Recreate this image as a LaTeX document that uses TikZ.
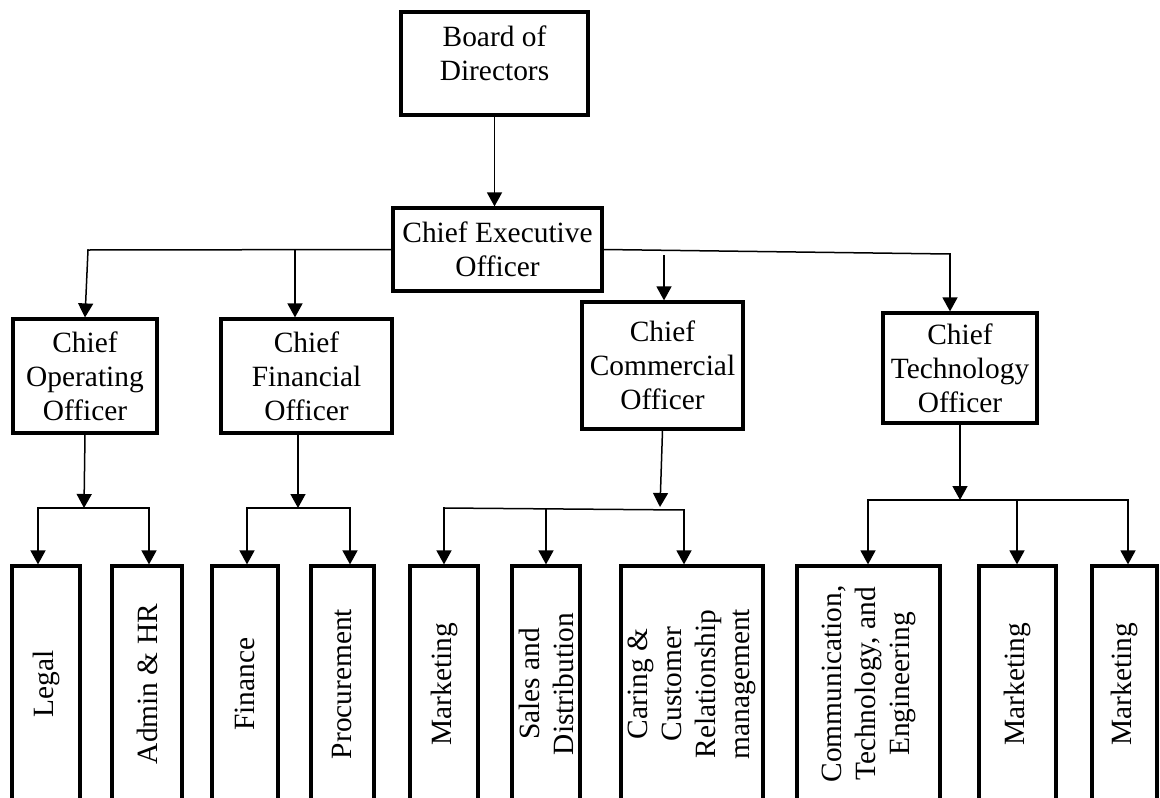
\documentclass[tikz,border=0pt]{standalone}
\usepackage{fontspec}
\setmainfont{Liberation Serif}
\usetikzlibrary{arrows.meta}

\begin{document}
\begin{tikzpicture}[x=1pt,y=-1pt,
	block/.style={draw,line width=3.2pt,align=center,inner sep=0pt,font=\fontsize{29.4}{34}\selectfont},
	leaf/.style={block,rotate=90,minimum width=236pt},
	link/.style={line width=1.5pt,line cap=rect},
	arr/.style={link,-{Triangle[width=15pt,length=14pt]}}]
	\useasboundingbox (0,0) rectangle (1160,798);
	\clip (0,0) rectangle (1160,798);
	% top levels
	\node[block,minimum width=187pt,minimum height=103pt,text depth=21pt] (bod) at (494.5,63.5) {Board of\\Directors};
	\node[block,minimum width=209pt,minimum height=83pt] (ceo) at (497.5,249.5) {Chief Executive\\Officer};
	\node[block,minimum width=144pt,minimum height=114pt] (coo) at (85,376) {Chief\\Operating\\Officer};
	\node[block,minimum width=171pt,minimum height=114pt] (cfo) at (306.5,376) {Chief\\Financial\\Officer};
	\node[block,minimum width=161pt,minimum height=127pt] (cco) at (662.5,365.5) {Chief\\Commercial\\Officer};
	\node[block,minimum width=154pt,minimum height=110pt] (cto) at (960,368) {Chief\\Technology\\Officer};
	% departments (rotated, so .east is the top side)
	\node[leaf,minimum height=68pt] (legal) at (46,684) {Legal};
	\node[leaf,minimum height=70pt] (admin) at (147,684) {Admin \& HR};
	\node[leaf,minimum height=66pt] (fin) at (245,684) {Finance};
	\node[leaf,minimum height=63pt] (proc) at (342.5,684) {Procurement};
	\node[leaf,minimum height=68pt] (mkt1) at (444,684) {Marketing};
	\node[leaf,minimum height=68pt] (sales) at (546,684) {Sales and\\Distribution};
	\node[leaf,minimum height=142pt] (care) at (692,684) {Caring \&\\Customer\\Relationship\\management};
	\node[leaf,minimum height=143pt] (comm) at (868.5,684) {Communication,\\Technology, and\\Engineering};
	\node[leaf,minimum height=77pt] (mkt2) at (1017.5,684) {Marketing};
	\node[leaf,minimum height=65pt] (mkt3) at (1124.5,684) {Marketing};
	% junctions
	\coordinate (jl) at (88,250);
	\coordinate (jf) at (295,250);
	\coordinate (jc) at (664,256);
	\coordinate (jr) at (950,254);
	\coordinate (o0) at (84,508);
	\coordinate (o1) at (38,508);
	\coordinate (o2) at (149,508);
	\coordinate (f0) at (298,508);
	\coordinate (f1) at (247,508);
	\coordinate (f2) at (350,508);
	\coordinate (c0) at (660,507);
	\coordinate (c1) at (444,508);
	\coordinate (c2) at (546,509);
	\coordinate (c3) at (684,510);
	\coordinate (t0) at (960,500);
	\coordinate (t1) at (868,500);
	\coordinate (t2) at (1017,500);
	\coordinate (t3) at (1128,500);
	% board and chiefs
	\draw[arr] (bod.south) -- (bod.south |- ceo.north);
	\draw[link] (ceo.west) -- (jl);
	\draw[arr] (jl) -- (coo.north);
	\draw[arr] (jf) -- (jf |- cfo.north);
	\draw[link] (ceo.east) -- (jr);
	\draw[arr] (jc) -- (jc |- cco.north);
	\draw[arr] (jr) -- (jr |- cto.north);
	% operating
	\draw[arr] (coo.south) -- (o0);
	\draw[link] (o1) -- (o2);
	\draw[arr] (o1) -- (o1 |- legal.east);
	\draw[arr] (o2) -- (o2 |- admin.east);
	% financial
	\draw[arr] (f0 |- cfo.south) -- (f0);
	\draw[link] (f1) -- (f2);
	\draw[arr] (f1) -- (f1 |- fin.east);
	\draw[arr] (f2) -- (f2 |- proc.east);
	% commercial
	\draw[arr] (cco.south) -- (c0);
	\draw[link] (c1) -- (c3);
	\draw[arr] (c1) -- (c1 |- mkt1.east);
	\draw[arr] (c2) -- (c2 |- sales.east);
	\draw[arr] (c3) -- (c3 |- care.east);
	% technology
	\draw[arr] (cto.south) -- (t0);
	\draw[link] (t1) -- (t3);
	\draw[arr] (t1) -- (t1 |- comm.east);
	\draw[arr] (t2) -- (t2 |- mkt2.east);
	\draw[arr] (t3) -- (t3 |- mkt3.east);
\end{tikzpicture}
\end{document}
